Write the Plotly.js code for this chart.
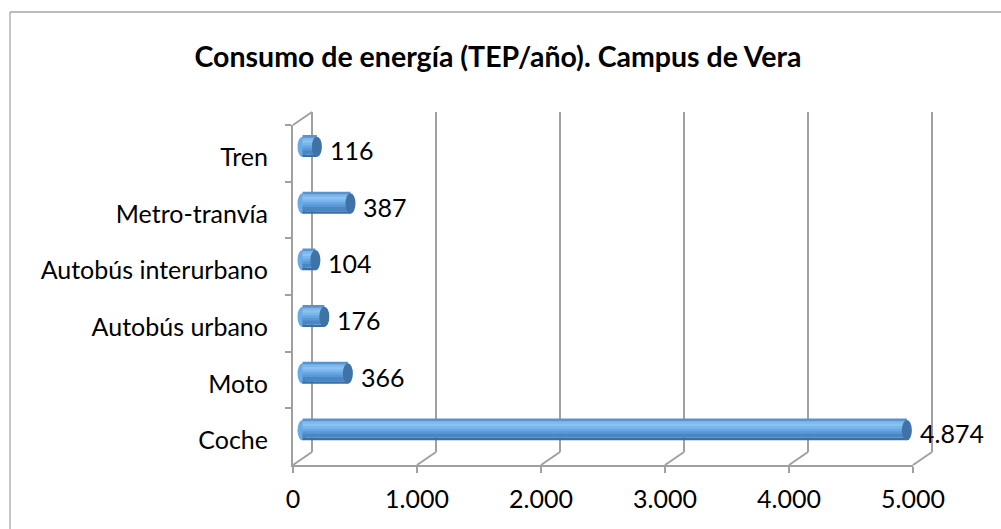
<!DOCTYPE html>
<html>
<head>
<meta charset="utf-8">
<script src="https://cdn.plot.ly/plotly-3.0.1.min.js"></script>
<style>html,body{margin:0;padding:0;background:#fff;}#chart{width:1001px;height:529px;}</style>
</head>
<body>
<div id="chart"></div>
<script>
// ---- data ----
const categories = ['Coche', 'Moto', 'Autobús urbano', 'Autobús interurbano', 'Metro-tranvía', 'Tren'];
const consumo = [4874, 366, 176, 104, 387, 116];
const xTickVals = [0, 1000, 2000, 3000, 4000, 5000];
const titleText = 'Consumo de energía (TEP/año). Campus de Vera';

// ---- geometry (pixels) ----
const W = 1001, H = 529;
const FX0 = 293, FX1 = 913;     // front x of 0 and of max
const FYT = 125, FYB = 465;     // front top / bottom
const DX = 19, DY = 13;         // depth offset to back wall
const XMAX = 5000;
const ppu = (FX1 - FX0) / XMAX;
const PAD = 60;                 // data-unit padding for back / mid axes
const BW = 0.36;                // bar thickness in category units
const FONT = 'Lato';
const FS = 25;
const GRID = '#A0A0A0';

const px = v => v / W;
const py = v => 1 - v / H;

function padDomain(x0) {
  return [px(x0 - PAD * ppu), px(x0 + (XMAX + PAD) * ppu)];
}

// cylinder strips, top -> bottom
const stripColors = ['#5A93CC', '#7CB6EA', '#8AC2F1', '#7AB6EC', '#67A7E4', '#5898D7', '#4A86C4', '#3B6EA3'];
const sw = BW / stripColors.length;

const traces = [];
// invisible helpers so each subplot exists and the front category axis has categories
traces.push({type: 'scatter', mode: 'markers', x: consumo, y: categories, xaxis: 'x', yaxis: 'y',
  marker: {opacity: 0}, hoverinfo: 'skip', showlegend: false});
traces.push({type: 'scatter', mode: 'markers', x: consumo, y: consumo.map(() => 0.5), xaxis: 'x2', yaxis: 'y2',
  marker: {opacity: 0}, hoverinfo: 'skip', showlegend: false});

stripColors.forEach((c, i) => {
  const last = i === stripColors.length - 1;
  traces.push({
    type: 'bar', orientation: 'h', x: consumo, y: categories, xaxis: 'x3', yaxis: 'y3',
    width: last ? sw : sw * 1.6, offset: BW / 2 - (i + 1) * sw,
    marker: {color: c, line: {width: 0}}, hoverinfo: 'skip', showlegend: false
  });
});

const shapes = [];
// chart border (left + top)
shapes.push({type: 'line', xref: 'paper', yref: 'paper', x0: px(10), y0: 0, x1: px(10), y1: py(12),
  line: {color: '#A6A6A6', width: 1.3}});
shapes.push({type: 'line', xref: 'paper', yref: 'paper', x0: px(10), y0: py(12), x1: 1, y1: py(12),
  line: {color: '#A6A6A6', width: 1.3}});
// floor diagonals
xTickVals.forEach(v => {
  const fx = FX0 + v * ppu;
  shapes.push({type: 'line', xref: 'paper', yref: 'paper', x0: px(fx), y0: py(FYB), x1: px(fx + DX), y1: py(FYB - DY),
    line: {color: GRID, width: 2}});
});
// left wall top diagonal
shapes.push({type: 'line', xref: 'paper', yref: 'paper', x0: px(FX0), y0: py(FYT), x1: px(FX0 + DX), y1: py(FYT - DY),
  line: {color: GRID, width: 2}});

// cylinder caps
const capA = 5 / ppu;
consumo.forEach((v, i) => {
  shapes.push({type: 'circle', xref: 'x3', yref: 'y3', x0: -capA, x1: capA, y0: i - BW / 2, y1: i + BW / 2,
    fillcolor: '#6AA9E3', line: {width: 0}, layer: 'below'});
  shapes.push({type: 'circle', xref: 'x3', yref: 'y3', x0: v - capA, x1: v + capA, y0: i - BW / 2, y1: i + BW / 2,
    fillcolor: '#3F72A6', line: {width: 0}});
});

// data labels
const fmt = v => String(v).replace(/\B(?=(\d{3})+(?!\d))/g, '.');
const annotations = consumo.map((v, i) => ({
  x: v, y: categories[i], xref: 'x3', yref: 'y3', text: fmt(v), showarrow: false,
  xanchor: 'left', yanchor: 'middle', xshift: 11, yshift: -3,
  font: {family: FONT, size: FS, color: '#000'}
}));

const layout = {
  width: W, height: H,
  margin: {l: 0, r: 0, t: 0, b: 0},
  paper_bgcolor: '#fff', plot_bgcolor: 'rgba(0,0,0,0)',
  separators: ',.',
  barmode: 'overlay',
  showlegend: false,
  title: {text: titleText, x: px(498), xanchor: 'center', y: py(57), yanchor: 'middle',
    font: {family: FONT, size: 28.5, color: '#000', weight: 'bold'}},
  xaxis: {domain: [px(FX0), px(FX1)], range: [0, XMAX], anchor: 'y',
    showline: true, linecolor: GRID, linewidth: 2, ticks: 'outside', ticklen: 6, tickwidth: 2, tickcolor: GRID,
    tickmode: 'array', tickvals: xTickVals, tickformat: ',', showgrid: false, zeroline: false,
    ticklabelstandoff: 5, tickfont: {family: FONT, size: FS, color: '#000'}, fixedrange: true},
  yaxis: {domain: [py(FYB), py(FYT)], type: 'category', categoryorder: 'array', categoryarray: categories,
    range: [-0.5, categories.length - 0.5], anchor: 'x',
    showline: true, linecolor: GRID, linewidth: 2, ticks: 'outside', ticklen: 6, tickwidth: 2, tickcolor: GRID,
    tickson: 'boundaries', showgrid: false, zeroline: false, ticklabelstandoff: 18, ticklabelshift: 4,
    tickfont: {family: FONT, size: FS, color: '#000'}, fixedrange: true},
  xaxis2: {domain: padDomain(FX0 + DX), range: [-PAD, XMAX + PAD], anchor: 'y2',
    tickmode: 'array', tickvals: xTickVals, showticklabels: false, ticks: '',
    showgrid: true, gridcolor: GRID, gridwidth: 2, zeroline: false, showline: false, fixedrange: true},
  yaxis2: {domain: [py(FYB - DY), py(FYT - DY)], range: [0, 1], anchor: 'x2', visible: false, fixedrange: true},
  xaxis3: {domain: padDomain(FX0 + DX / 2), range: [-PAD, XMAX + PAD], anchor: 'y3', visible: false, fixedrange: true},
  yaxis3: {domain: [py(FYB - DY / 2), py(FYT - DY / 2)], type: 'category', categoryorder: 'array', categoryarray: categories,
    range: [-0.5, categories.length - 0.5], anchor: 'x3', visible: false, fixedrange: true},
  shapes: shapes,
  annotations: annotations
};

Plotly.newPlot('chart', traces, layout, {staticPlot: true, displayModeBar: false});
</script>
</body>
</html>
